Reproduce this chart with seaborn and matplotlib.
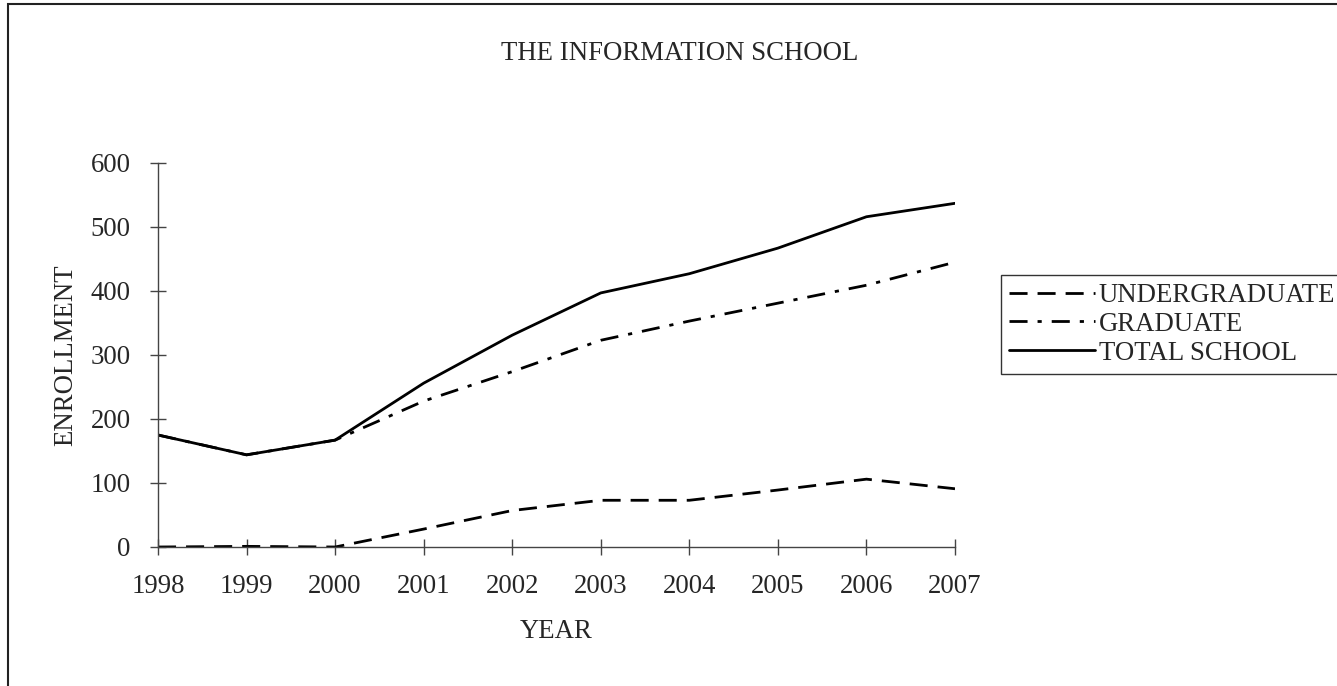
import matplotlib
matplotlib.use("Agg")
import matplotlib.pyplot as plt
import seaborn as sns
import pandas as pd
from matplotlib.patches import Rectangle

years = [1998, 1999, 2000, 2001, 2002, 2003, 2004, 2005, 2006, 2007]
undergraduate = [0, 1, 0, 28, 57, 73, 73, 89, 106, 91]
graduate = [175, 144, 167, 228, 274, 323, 353, 381, 409, 445]
total_school = [175, 144, 167, 256, 331, 397, 427, 467, 516, 537]
yticks = [0, 100, 200, 300, 400, 500, 600]

sns.set_style("white")
plt.rcParams["font.family"] = ["Liberation Serif", "DejaVu Serif"]
plt.rcParams["lines.scale_dashes"] = False
FS = 19.3

fig = plt.figure(figsize=(13.37, 6.86), dpi=100)
ax = fig.add_axes([158 / 1337, 1 - 547 / 686, (955 - 158) / 1337, (547 - 163) / 686])

series = [
    ("UNDERGRADUATE", undergraduate, (0, (13, 7.2))),
    ("GRADUATE", graduate, (0, (13, 7.2, 3, 7.2))),
    ("TOTAL SCHOOL", total_school, "-"),
]
handles = []
for name, vals, ls in series:
    df = pd.DataFrame({"year": years, "value": vals})
    sns.lineplot(data=df, x="year", y="value", ax=ax, color="black",
                 linewidth=2.0, linestyle=ls, label=name, legend=False)
    handles.append(ax.get_lines()[-1])

ax.set_xlim(years[0], years[-1])
ax.set_ylim(yticks[0], yticks[-1])
ax.set_xticks(years)
ax.set_yticks(yticks)
ax.tick_params(axis="both", direction="inout", length=11.5, width=1, color="#444444",
               labelsize=FS, pad=14, bottom=True, left=True)
for s in ["top", "right"]:
    ax.spines[s].set_visible(False)
for s in ["left", "bottom"]:
    ax.spines[s].set_color("#444444")
    ax.spines[s].set_linewidth(1)

ax.set_xlabel("YEAR", fontsize=FS, labelpad=14)
ax.set_ylabel("ENROLLMENT", fontsize=FS, labelpad=9)

fig.text(680 / 1337, 1 - 54 / 686, "THE INFORMATION SCHOOL", ha="center", va="center", fontsize=FS)

leg = fig.legend(handles=handles, labels=[s[0] for s in series],
                 loc="upper left", bbox_to_anchor=(1001 / 1337, 1 - 275 / 686),
                 bbox_transform=fig.transFigure, borderaxespad=0, fontsize=FS,
                 frameon=True, fancybox=False, handlelength=3.2, handletextpad=0.15,
                 labelspacing=0.14, borderpad=0.3)
leg.get_frame().set_edgecolor("black")
leg.get_frame().set_linewidth(1)

fig.patches.append(Rectangle((8 / 1337, -0.2), 1.5, 1.2 - 4 / 686, transform=fig.transFigure,
                             fill=False, edgecolor="#222222", linewidth=1.5))

fig.savefig("out.png", dpi=100)
